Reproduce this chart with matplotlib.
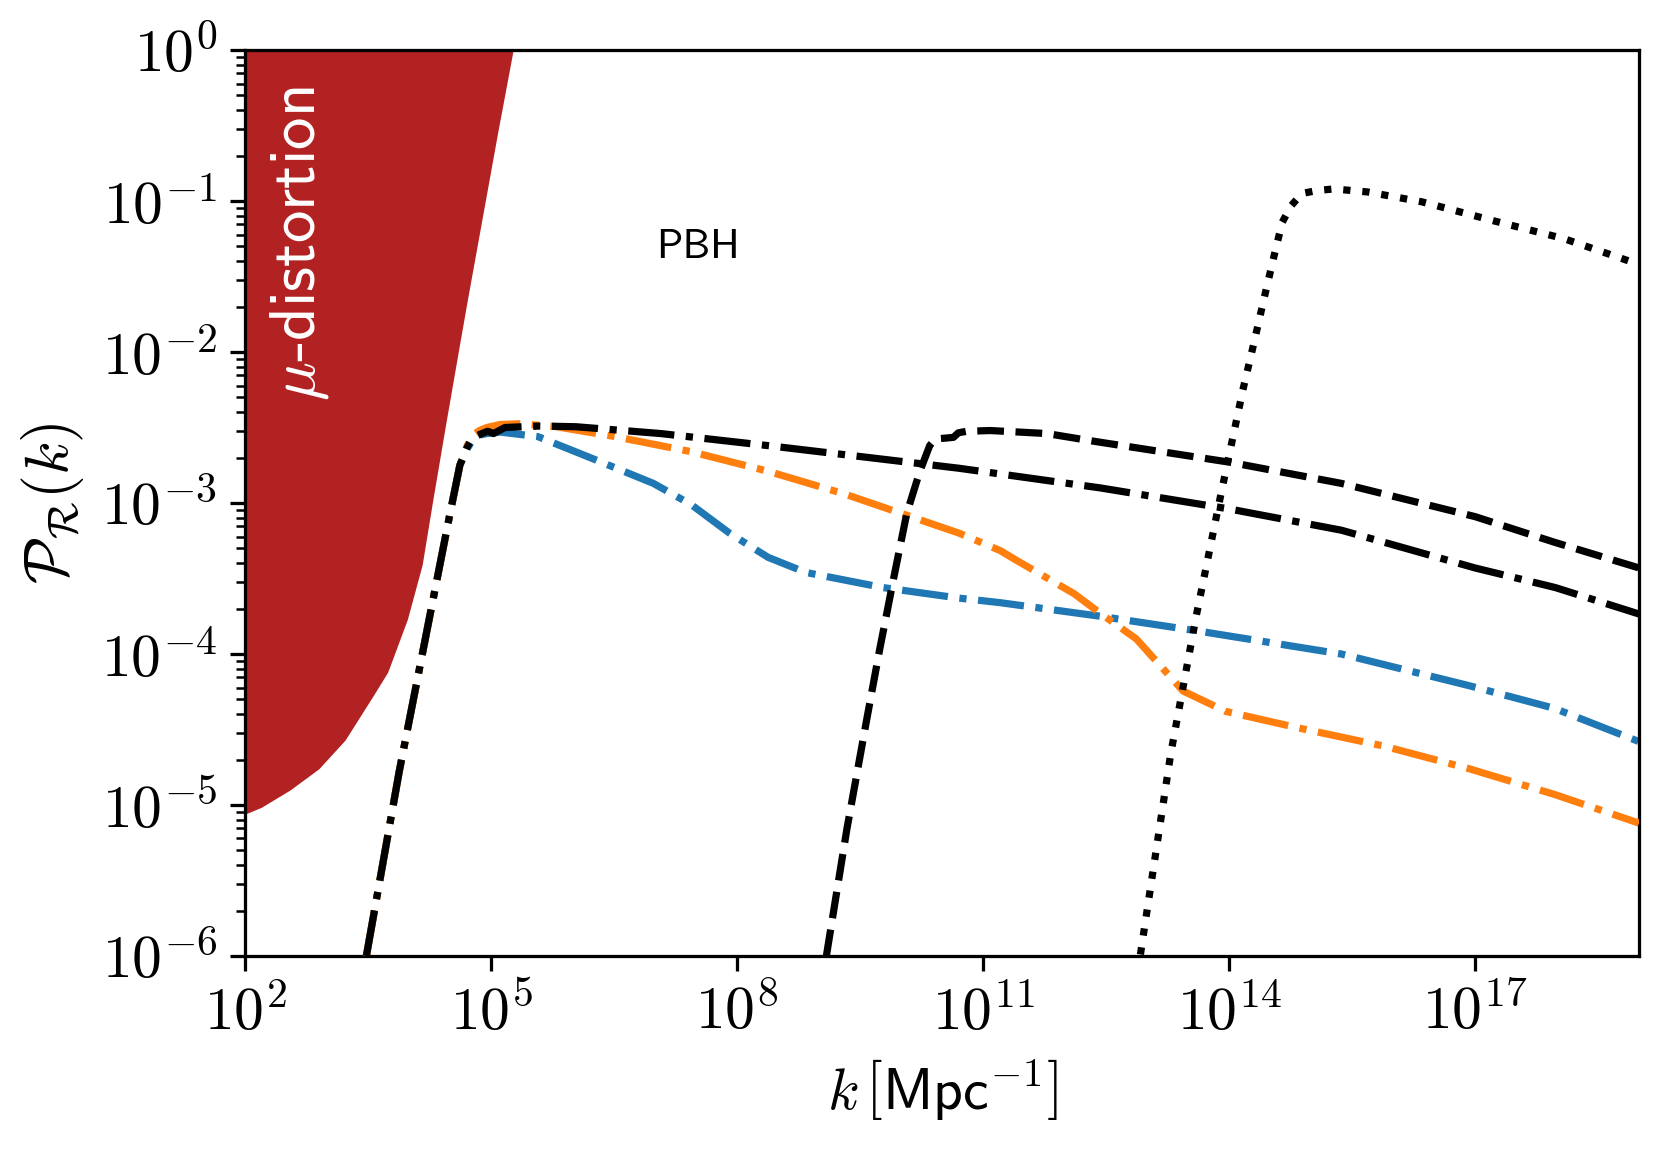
import os
import numpy as np
import matplotlib
matplotlib.use("Agg")
import matplotlib.pyplot as plt
from matplotlib.font_manager import FontProperties
from matplotlib.ticker import FixedLocator, FuncFormatter, LogLocator, NullFormatter, NullLocator

plt.rcParams["mathtext.fontset"] = "cm"
SANS = os.path.join(matplotlib.get_data_path(), "fonts", "ttf", "cmss10.ttf")

# mu-distortion bound (log10 k, log10 P)
mu_logk = [2.0, 2.2, 2.55, 2.90, 3.22, 3.57, 3.74, 3.98, 4.16, 4.29, 4.44, 4.60, 4.71, 5.08, 5.27]
mu_logP = [-5.06, -5.015, -4.90, -4.76, -4.57, -4.27, -4.12, -3.77, -3.41, -2.98, -2.50, -2.00, -1.66, -0.55, 0.0]

# black dash-dot
ref_logk = [3.48, 3.88, 4.34, 4.50, 4.62, 4.71, 4.76, 4.80, 4.89, 4.96, 5.03, 5.17, 5.6, 6.04, 7.07, 8.38,
            9.78, 10.71, 12.43, 14.01, 15.37, 17.0, 17.98, 19.0]
ref_logP = [-6.0, -4.78, -3.51, -3.07, -2.75, -2.63, -2.58, -2.56, -2.54, -2.525, -2.54, -2.50, -2.49, -2.495,
            -2.54, -2.62, -2.71, -2.77, -2.90, -3.04, -3.18, -3.43, -3.56, -3.735]

# blue dash-dot
blue_logk = [3.48, 3.88, 4.34, 4.50, 4.62, 4.71, 4.78, 4.86, 4.95, 5.11, 5.57, 6.28, 6.98, 7.44, 7.91, 8.38,
             8.84, 9.78, 10.71, 11.21, 12.43, 13.65, 15.37, 16.93, 17.97, 19.0]
blue_logP = [-6.0, -4.78, -3.51, -3.07, -2.75, -2.64, -2.58, -2.55, -2.54, -2.53, -2.56, -2.715, -2.87, -3.01,
             -3.20, -3.36, -3.46, -3.56, -3.63, -3.66, -3.75, -3.85, -4.0, -4.21, -4.36, -4.58]

# orange dash-dot
orange_logk = [3.48, 3.88, 4.34, 4.50, 4.62, 4.71, 4.78, 4.86, 4.95, 5.11, 5.35, 5.80, 6.51, 7.44, 8.38, 9.31,
               10.01, 10.71, 11.21, 11.41, 12.11, 12.43, 12.87, 13.44, 13.96, 14.85, 15.89, 16.93, 17.97, 19.0]
orange_logP = [-6.0, -4.78, -3.51, -3.07, -2.75, -2.62, -2.55, -2.52, -2.50, -2.48, -2.475, -2.495, -2.56, -2.66,
               -2.79, -2.94, -3.07, -3.20, -3.315, -3.38, -3.60, -3.73, -3.90, -4.245, -4.38, -4.49, -4.61,
               -4.76, -4.93, -5.12]

# black dashed
dash_logk = [9.09, 9.34, 9.58, 9.74, 9.91, 10.07, 10.23, 10.35, 10.42, 10.55, 10.64, 10.70, 10.80, 11.09,
             11.78, 12.34, 14.01, 15.37, 17.0, 17.97, 19.0]
dash_logP = [-6.0, -5.16, -4.44, -3.97, -3.50, -3.07, -2.79, -2.62, -2.575, -2.57, -2.565, -2.535, -2.525, -2.52,
             -2.54, -2.59, -2.73, -2.87, -3.09, -3.26, -3.43]

# black dotted
dot_logk = [12.92, 13.29, 13.60, 13.91, 14.17, 14.30, 14.43, 14.56, 14.65, 14.76, 14.89, 15.08, 15.28, 15.69,
            16.35, 17.22, 18.09, 19.0]
dot_logP = [-5.99, -4.66, -3.75, -2.92, -2.25, -1.95, -1.64, -1.34, -1.14, -1.03, -0.95, -0.93, -0.92, -0.94,
            -1.005, -1.13, -1.25, -1.42]

xticks_exp = [2, 5, 8, 11, 14, 17]


def p10(a):
    return 10.0 ** np.asarray(a)


fig = plt.figure(figsize=(1669 / 260, 1150 / 260), dpi=260)
ax = fig.add_axes([0.1468, 0.1687, 0.982 - 0.1468, 0.9565 - 0.1687])

ax.fill_between(p10(mu_logk), p10(mu_logP), 1.0, color="#b22222", lw=0, zorder=1)

lw = 2.0
ax.plot(p10(blue_logk), p10(blue_logP), color="#1f77b4", ls="-.", lw=lw, zorder=2)
ax.plot(p10(orange_logk), p10(orange_logP), color="#ff7f0e", ls="-.", lw=lw, zorder=3)
ax.plot(p10(ref_logk), p10(ref_logP), color="k", ls="-.", lw=lw, zorder=4)
ax.plot(p10(dash_logk), p10(dash_logP), color="k", ls="--", lw=lw, zorder=4)
ax.plot(p10(dot_logk), p10(dot_logP), color="k", ls=":", lw=lw, zorder=4)

ax.set_xscale("log"); ax.set_yscale("log")
ax.set_xlim(1e2, 1e19); ax.set_ylim(1e-6, 1e0)

fmt = FuncFormatter(lambda v, _: r"$10^{%d}$" % int(round(np.log10(v))))
ax.xaxis.set_major_locator(FixedLocator(p10(xticks_exp)))
ax.xaxis.set_minor_locator(NullLocator())
ax.xaxis.set_major_formatter(fmt)
ax.yaxis.set_major_locator(LogLocator(base=10, numticks=20))
ax.yaxis.set_minor_locator(LogLocator(base=10, subs=np.arange(2, 10), numticks=20))
ax.yaxis.set_major_formatter(fmt)
ax.yaxis.set_minor_formatter(NullFormatter())
ax.tick_params(which="major", length=4.2, width=0.9, labelsize=16.5)
ax.tick_params(which="minor", length=2.6, width=0.7)
for s in ax.spines.values():
    s.set_linewidth(0.9)

ax.set_xlabel(r"$k\,\left[\mathsf{Mpc}^{-1}\right]$", fontsize=16)
ax.set_ylabel(r"$\mathcal{P}_\mathcal{R}(k)$", fontsize=17)

ax.text(10 ** 2.67, 10 ** -1.28, r"$\mu$-distortion", fontproperties=FontProperties(fname=SANS, size=18),
        color="white", rotation=90, ha="center", va="center", zorder=5)
ax.text(10 ** 7.52, 10 ** -1.31, "PBH", fontproperties=FontProperties(fname=SANS, size=11.5),
        ha="center", va="center", zorder=5)

fig.savefig("out.png", dpi=260)
